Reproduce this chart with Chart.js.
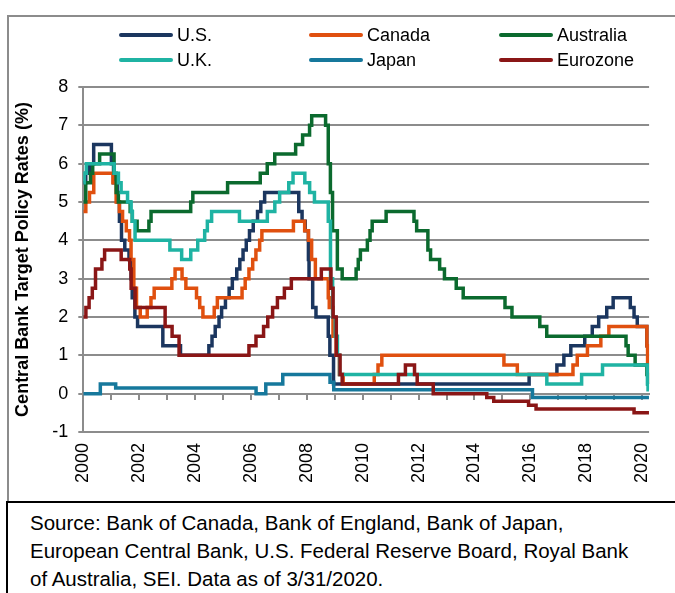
<!DOCTYPE html>
<html><head><meta charset="utf-8">
<script src="https://cdn.jsdelivr.net/npm/chart.js@4.4.1/dist/chart.umd.min.js"></script>
<style>
html,body{margin:0;padding:0;background:#fff;}
#wrap{position:relative;width:675px;height:593px;overflow:hidden;font-family:"Liberation Sans",Arial,sans-serif;color:#000;}
#frame{position:absolute;left:7px;top:15px;width:720px;height:487px;border-left:2px solid #8c8c8c;border-top:2px solid #8c8c8c;box-sizing:border-box;}
#srcbox{position:absolute;left:6px;top:501px;width:720px;height:120px;border-left:2px solid #000;border-top:2px solid #000;box-sizing:border-box;}
#src{position:absolute;left:30px;top:509px;font-size:20.5px;line-height:28px;white-space:nowrap;}
#c{position:absolute;left:0;top:0;}
.leg{position:absolute;height:20px;display:flex;align-items:center;font-size:18px;white-space:nowrap;}
.leg .ln{display:inline-block;width:54px;height:4px;border-radius:2px;margin-right:4px;}
</style></head>
<body>
<div id="wrap">
  <div id="frame"></div>
  <div id="srcbox"></div>
  <canvas id="c" width="675" height="500"></canvas>
  <div id="legend"></div>
  <div id="src">Source: Bank of Canada, Bank of England, Bank of Japan,<br>European Central Bank, U.S. Federal Reserve Board, Royal Bank<br>of Australia, SEI. Data as of 3/31/2020.</div>
</div>
<script>
// ---- Data: policy-rate change dates and new rate levels (%) ----
const seriesNames = ['U.S.', 'Canada', 'Australia', 'U.K.', 'Japan', 'Eurozone'];
const seriesColors = ['#1b365f', '#e0500f', '#0b6a2e', '#1fb3a3', '#16789c', '#8a1616'];

const usDates = ['2000-01-01','2000-02-02','2000-03-21','2000-05-16','2001-01-03','2001-01-31','2001-03-20','2001-04-18','2001-05-15','2001-06-27','2001-08-21','2001-09-17','2001-10-02','2001-11-06','2001-12-11','2002-11-06','2003-06-25','2004-06-30','2004-08-10','2004-09-21','2004-11-10','2004-12-14','2005-02-02','2005-03-22','2005-05-03','2005-06-30','2005-08-09','2005-09-20','2005-11-01','2005-12-13','2006-01-31','2006-03-28','2006-05-10','2006-06-29','2007-09-18','2007-10-31','2007-12-11','2008-01-22','2008-01-30','2008-03-18','2008-04-30','2008-10-08','2008-10-29','2008-12-16','2015-12-16','2016-12-14','2017-03-15','2017-06-14','2017-12-13','2018-03-21','2018-06-13','2018-09-26','2018-12-19','2019-07-31','2019-09-18','2019-10-30','2020-03-03','2020-03-15','2020-03-31'];
const usRates = [5.5,5.75,6.0,6.5,6.0,5.5,5.0,4.5,4.0,3.75,3.5,3.0,2.5,2.0,1.75,1.25,1.0,1.25,1.5,1.75,2.0,2.25,2.5,2.75,3.0,3.25,3.5,3.75,4.0,4.25,4.5,4.75,5.0,5.25,4.75,4.5,4.25,3.5,3.0,2.25,2.0,1.5,1.0,0.25,0.5,0.75,1.0,1.25,1.5,1.75,2.0,2.25,2.5,2.25,2.0,1.75,1.25,0.25,0.25];

const caDates = ['2000-01-01','2000-02-03','2000-03-22','2000-05-17','2001-01-23','2001-03-06','2001-04-17','2001-05-29','2001-07-17','2001-08-28','2001-09-17','2001-10-23','2001-11-27','2002-01-15','2002-04-16','2002-06-04','2002-07-16','2003-03-04','2003-04-15','2003-07-15','2003-09-03','2004-01-20','2004-03-02','2004-04-13','2004-09-08','2004-10-19','2005-09-07','2005-10-18','2005-12-06','2006-01-24','2006-03-07','2006-04-25','2006-05-24','2007-07-10','2007-12-04','2008-01-22','2008-03-04','2008-04-22','2008-10-08','2008-10-21','2008-12-09','2009-01-20','2009-03-03','2009-04-21','2010-06-01','2010-07-20','2010-09-08','2015-01-21','2015-07-15','2017-07-12','2017-09-06','2018-01-17','2018-07-11','2018-10-24','2020-03-04','2020-03-13','2020-03-27','2020-03-31'];
const caRates = [4.75,5.0,5.25,5.75,5.5,5.0,4.75,4.5,4.25,4.0,3.5,2.75,2.25,2.0,2.25,2.5,2.75,3.0,3.25,3.0,2.75,2.5,2.25,2.0,2.25,2.5,2.75,3.0,3.25,3.5,3.75,4.0,4.25,4.5,4.25,4.0,3.5,3.0,2.5,2.25,1.5,1.0,0.5,0.25,0.5,0.75,1.0,0.75,0.5,0.75,1.0,1.25,1.5,1.75,1.25,0.75,0.25,0.25];

const auDates = ['2000-01-01','2000-02-02','2000-04-05','2000-05-03','2000-08-02','2001-02-07','2001-03-07','2001-04-04','2001-09-05','2001-10-03','2001-12-05','2002-05-08','2002-06-05','2003-11-05','2003-12-03','2005-03-02','2006-05-03','2006-08-02','2006-11-08','2007-08-08','2007-11-07','2008-02-06','2008-03-05','2008-09-03','2008-10-08','2008-11-05','2008-12-03','2009-02-04','2009-04-08','2009-10-07','2009-11-04','2009-12-02','2010-03-03','2010-04-07','2010-05-05','2010-11-03','2011-11-02','2011-12-07','2012-05-02','2012-06-06','2012-10-03','2012-12-05','2013-05-08','2013-08-07','2015-02-04','2015-05-06','2016-05-04','2016-08-03','2019-06-05','2019-07-03','2019-10-02','2020-03-04','2020-03-20','2020-03-31'];
const auRates = [5.0,5.5,5.75,6.0,6.25,5.75,5.25,5.0,4.75,4.5,4.25,4.5,4.75,5.0,5.25,5.5,5.75,6.0,6.25,6.5,6.75,7.0,7.25,7.0,6.0,5.25,4.25,3.25,3.0,3.25,3.5,3.75,4.0,4.25,4.5,4.75,4.5,4.25,3.75,3.5,3.25,3.0,2.75,2.5,2.25,2.0,1.75,1.5,1.25,1.0,0.75,0.5,0.25,0.25];

const ukDates = ['2000-01-01','2000-01-13','2000-02-10','2001-02-08','2001-04-05','2001-05-10','2001-08-02','2001-09-18','2001-10-04','2001-11-08','2003-02-06','2003-07-10','2003-11-06','2004-02-05','2004-05-06','2004-06-10','2004-08-05','2005-08-04','2006-08-03','2006-11-09','2007-01-11','2007-05-10','2007-07-05','2007-12-06','2008-02-07','2008-04-10','2008-10-08','2008-11-06','2008-12-04','2009-01-08','2009-02-05','2009-03-05','2016-08-04','2017-11-02','2018-08-02','2020-03-11','2020-03-19','2020-03-31'];
const ukRates = [5.5,5.75,6.0,5.75,5.5,5.25,5.0,4.75,4.5,4.0,3.75,3.5,3.75,4.0,4.25,4.5,4.75,4.5,4.75,5.0,5.25,5.5,5.75,5.5,5.25,5.0,4.5,3.0,2.0,1.5,1.0,0.5,0.25,0.5,0.75,0.25,0.1,0.1];

const jpDates = ['2000-01-01','2000-08-11','2001-02-28','2006-03-09','2006-07-14','2007-02-21','2008-10-31','2008-12-19','2016-01-29','2020-03-31'];
const jpRates = [0.0,0.25,0.15,0.0,0.25,0.5,0.3,0.1,-0.1,-0.1];

const euDates = ['2000-01-01','2000-02-04','2000-03-17','2000-04-28','2000-06-09','2000-09-01','2000-10-06','2001-05-11','2001-08-31','2001-09-18','2001-11-09','2002-12-06','2003-03-07','2003-06-06','2005-12-06','2006-03-08','2006-06-15','2006-08-09','2006-10-11','2006-12-13','2007-03-14','2007-06-13','2008-07-09','2008-11-12','2008-12-10','2009-01-21','2009-03-11','2009-04-08','2011-04-13','2011-07-13','2011-11-09','2011-12-14','2012-07-11','2014-06-11','2014-09-10','2015-12-09','2016-03-16','2019-09-18','2020-03-31'];
const euRates = [2.0,2.25,2.5,2.75,3.25,3.5,3.75,3.5,3.25,2.75,2.25,1.75,1.5,1.0,1.25,1.5,1.75,2.0,2.25,2.5,2.75,3.0,3.25,2.75,2.0,1.0,0.5,0.25,0.5,0.75,0.5,0.25,0.0,-0.1,-0.2,-0.3,-0.4,-0.5,-0.5];

const xTickLabels = [2000, 2002, 2004, 2006, 2008, 2010, 2012, 2014, 2016, 2018, 2020];
const yearMarks = [2000,2001,2002,2003,2004,2005,2006,2007,2008,2009,2010,2011,2012,2013,2014,2015,2016,2017,2018,2019,2020];
const yTicks = [-1, 0, 1, 2, 3, 4, 5, 6, 7, 8];
const yTitle = 'Central Bank Target Policy Rates (%)';

// ---- Build ----
function toYear(s) {
  const [y, m, d] = s.split('-').map(Number);
  const start = Date.UTC(y, 0, 1), end = Date.UTC(y + 1, 0, 1);
  return y + (Date.UTC(y, m - 1, d) - start) / (end - start);
}
const allDates = [usDates, caDates, auDates, ukDates, jpDates, euDates];
const allRates = [usRates, caRates, auRates, ukRates, jpRates, euRates];

const datasets = seriesNames.map((name, i) => ({
  label: name,
  data: allDates[i].map((d, k) => ({x: toYear(d), y: allRates[i][k]})),
  borderColor: seriesColors[i],
  backgroundColor: seriesColors[i],
  borderWidth: 3.5,
  pointRadius: 0,
  fill: false,
  stepped: 'before',
  borderJoinStyle: 'miter',
  order: seriesNames.length - i
}));

const GRID = '#8c8c8c';
const FONT = '"Liberation Sans", Arial, sans-serif';

new Chart(document.getElementById('c'), {
  type: 'line',
  data: { datasets },
  options: {
    responsive: false,
    animation: false,
    devicePixelRatio: 1,
    layout: { padding: { left: 8, top: 87, right: 25, bottom: 8 } },
    plugins: { legend: { display: false }, tooltip: { enabled: false } },
    scales: {
      x: {
        type: 'linear', position: 'bottom',
        min: 2000, max: 2020.25,
        afterBuildTicks: s => { s.ticks = xTickLabels.map(v => ({value: v})); },
        afterFit: s => { s.height = 60; },
        grid: { display: false, drawTicks: false },
        border: { display: false },
        ticks: { font: { family: FONT, size: 18 }, color: '#000', minRotation: 90, maxRotation: 90, padding: 11, autoSkip: false, callback: v => String(v) }
      },
      x0: {
        type: 'linear', axis: 'x', position: { y: 0 },
        min: 2000, max: 2020.25,
        afterBuildTicks: s => { s.ticks = yearMarks.map(v => ({value: v})); },
        grid: { drawOnChartArea: false, drawTicks: true, tickLength: 5, color: GRID, lineWidth: 2 },
        border: { display: true, color: GRID, width: 2 },
        ticks: { display: false }
      },
      y: {
        type: 'linear', position: 'left',
        min: -1, max: 8,
        afterBuildTicks: s => { s.ticks = yTicks.map(v => ({value: v})); },
        afterFit: s => { s.width = 75.3; },
        grid: { color: GRID, lineWidth: 2, drawTicks: true, tickLength: 5 },
        border: { display: true, color: GRID, width: 2 },
        ticks: { font: { family: FONT, size: 18 }, color: '#000', padding: 10 },
        title: { display: true, text: yTitle, color: '#000', font: { family: FONT, size: 18, weight: 'bold' }, padding: { top: 4, bottom: 0 } }
      }
    }
  }
});

// HTML legend (3 columns x 2 rows)
const legCols = [119, 309, 499];
const legRows = [25, 50];
const legend = document.getElementById('legend');
seriesNames.forEach((name, i) => {
  const el = document.createElement('div');
  el.className = 'leg';
  el.style.left = legCols[i % 3] + 'px';
  el.style.top = legRows[Math.floor(i / 3)] + 'px';
  const ln = document.createElement('span');
  ln.className = 'ln';
  ln.style.background = seriesColors[i];
  el.appendChild(ln);
  el.appendChild(document.createTextNode(name));
  legend.appendChild(el);
});
</script>
</body></html>
